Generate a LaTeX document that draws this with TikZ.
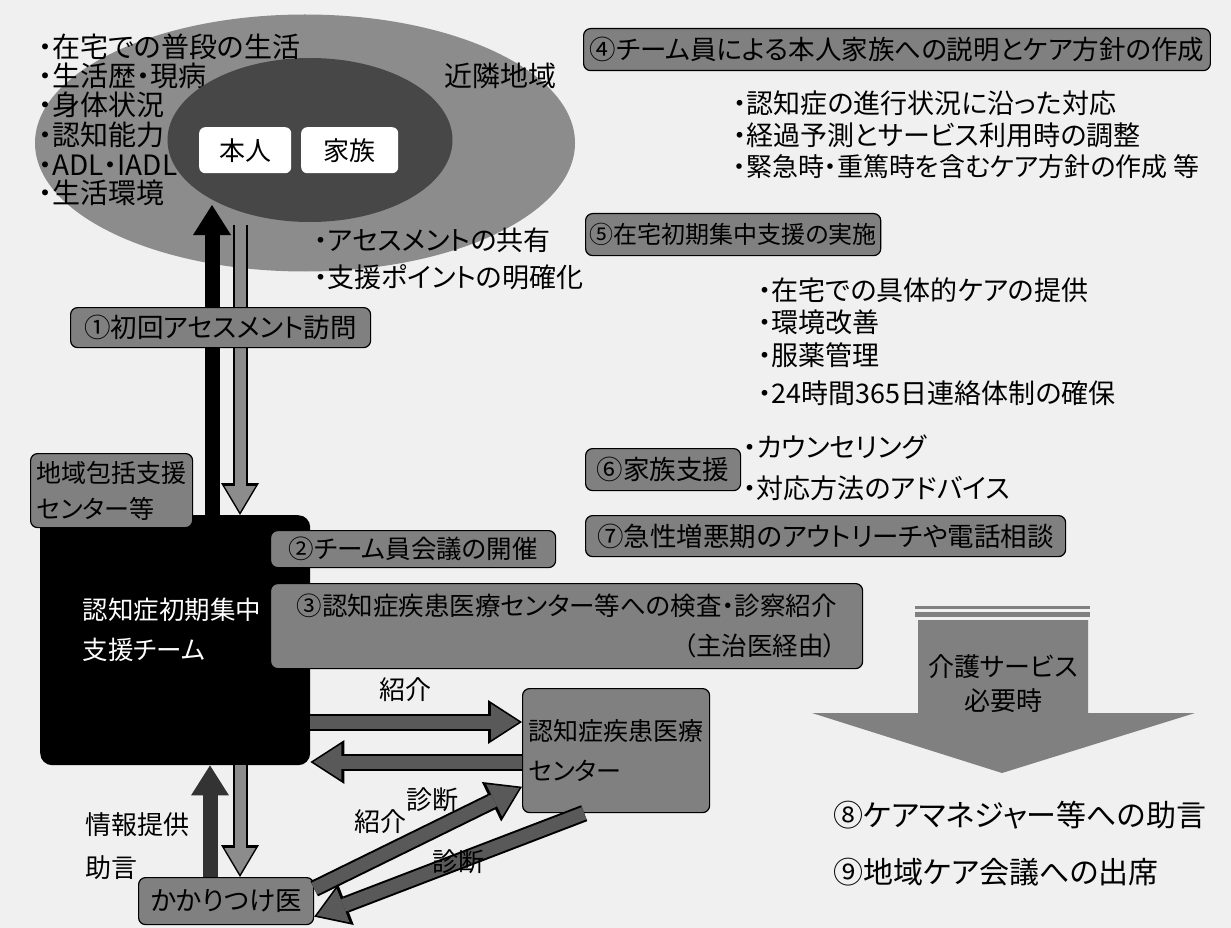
\documentclass[tikz,border=0pt]{standalone}
\usepackage{fontspec}
\setmainfont{Noto Sans CJK JP}[RawFeature=+palt]
\usetikzlibrary{arrows.meta,shapes.geometric}
\tikzset{
  T/.style={inner sep=0pt, font=\fontsize{26}{30}\selectfont},
  L/.style={T, anchor=west, font=\fontsize{27}{30}\selectfont},
  LL/.style={T, anchor=west, font=\fontsize{28}{30}\selectfont},
  gbox/.style={T, draw=black, line width=1.2pt, fill=black!50, rounded corners=7pt, anchor=north west, inner xsep=6pt, font=\fontsize{26.5}{30}\selectfont},
  wbox/.style={T, fill=white, rounded corners=6pt, anchor=north west, font=\fontsize{26}{30}\selectfont},
  blk/.style={draw=black, line width=15pt, -{Triangle[width=38pt,length=30pt,line width=0pt]}},
  gry/.style={draw=black!45, line width=11pt, shorten >=3pt, -{Triangle[width=31pt,length=26pt,line width=0pt]},
     preaction={draw=black, line width=15pt, shorten >=0pt, -{Triangle[width=38pt,length=32pt,line width=0pt]}}},
  dgry/.style={draw=black!65, line width=13pt, shorten >=3pt, -{Triangle[width=36pt,length=28pt,line width=0pt]},
     preaction={draw=black, line width=17pt, shorten >=0pt, -{Triangle[width=44pt,length=34pt,line width=0pt]}}},
}
\begin{document}
\begin{tikzpicture}[x=1pt,y=-1pt]
\useasboundingbox[fill=black!6] (0,0) rectangle (1231,928);
% ellipses
\node[ellipse, fill=black!45, minimum width=540pt, minimum height=257pt, inner sep=0pt] (outer) at (305,143) {};
\node[LL] (l2) at (38,76) {・生活歴・現病};
\node[LL] (l2b) at (444,76) {近隣地域};
\node[ellipse, fill=black!72, minimum width=285pt, minimum height=164pt, inner sep=0pt] (inner) at (310,140) {};
\node[LL] (l1) at (38,47) {・在宅での普段の生活};
\node[LL] (l3) at (38,105) {・身体状況};
\node[LL] (l4) at (38,135) {・認知能力};
\node[LL] (l5) at (38,165) {・ADL・IADL};
\node[LL] (l6) at (38,193) {・生活環境};
\node[wbox, minimum width=92pt, minimum height=46pt] (honnin) at (199,127) {本人};
\node[wbox, minimum width=97pt, minimum height=46pt] (kazoku) at (301,127) {家族};
\node[L] (as1) at (314,240) {・アセスメントの共有};
\node[L] (as2) at (314,277) {・支援ポイントの明確化};
% team
\node[fill=black, rounded corners=12pt, minimum width=270pt, minimum height=250pt, anchor=north west, inner sep=0pt] (team) at (40,515) {};
\node[T, text=white, align=left, font=\fontsize{25.5}{40}\selectfont] (teamlbl) at (172,630) {認知症初期集中\\支援チーム};
% top vertical arrows
\coordinate (uptip) at (212,205);
\coordinate (dntail) at (240,225);
\draw[blk] (team.north -| uptip) -- (uptip);
\draw[gry] (dntail) -- (team.north -| dntail);
\node[gbox, minimum width=300pt, minimum height=40pt] (s1) at (70,307) {①初回アセスメント訪問};
\node[gbox, minimum width=160pt, minimum height=74pt, align=left, font=\fontsize{25}{36}\selectfont] (chiiki) at (30,453) {地域包括支援\\センター等};
\node[gbox, minimum width=285pt, minimum height=37pt, font=\fontsize{25.5}{30}\selectfont] (s2) at (270,530) {②チーム員会議の開催};
\node[gbox, minimum width=592pt, minimum height=85pt, align=right, font=\fontsize{25.5}{40}\selectfont] (s3) at (270,583) {③認知症疾患医療センター等への検査・診察紹介\\（主治医経由）};
% right column
\node[gbox, minimum width=622pt, minimum height=42pt] (s4) at (583,28) {④チーム員による本人家族への説明とケア方針の作成};
\node[L] (b41) at (733,103) {・認知症の進行状況に沿った対応};
\node[L] (b42) at (733,135) {・経過予測とサービス利用時の調整};
\node[L, font=\fontsize{26}{30}\selectfont] (b43) at (733,167) {・緊急時・重篤時を含むケア方針の作成 等};
\node[gbox, minimum width=278pt, minimum height=42pt, inner xsep=4pt, font=\fontsize{24}{30}\selectfont] (s5) at (585,213) {⑤在宅初期集中支援の実施};
\node[L] (b51) at (758,290) {・在宅での具体的ケアの提供};
\node[L] (b52) at (758,322) {・環境改善};
\node[L] (b53) at (758,355) {・服薬管理};
\node[L] (b54) at (758,393) {・24時間365日連絡体制の確保};
\node[gbox, minimum width=155pt, minimum height=42pt] (s6) at (585,448) {⑥家族支援};
\node[L] (b61) at (743,447) {・カウンセリング};
\node[L] (b62) at (743,488) {・対応方法のアドバイス};
\node[gbox, minimum width=480pt, minimum height=41pt] (s7) at (585,515) {⑦急性増悪期のアウトリーチや電話相談};
% big arrow
\fill[black!50] (915,606) rectangle (1090,609);
\fill[black!50] (915,612) rectangle (1090,617);
\fill[black!50] (918,620) -- (1088,620) -- (1088,713) -- (1195,713) -- (1002,773) -- (812,713) -- (918,713) -- cycle;
\node[T, align=center, font=\fontsize{26}{34}\selectfont] (kaigo) at (1003,684) {介護サービス\\必要時};
\node[L, font=\fontsize{30}{34}\selectfont] (s8) at (833,815) {⑧ケアマネジャー等への助言};
\node[L, font=\fontsize{30}{34}\selectfont] (s9) at (833,872) {⑨地域ケア会議への出席};
% bottom
\node[gbox, minimum width=168pt, minimum height=124pt, align=left, font=\fontsize{25}{40}\selectfont] (center) at (522,688) {認知症疾患医療\\センター};
\node[gbox, minimum width=175pt, minimum height=47pt] (kakari) at (138,877) {かかりつけ医};
\coordinate (ra) at (0,722);
\coordinate (la) at (0,762);
\draw[dgry] (team.east |- ra) -- (center.west |- ra);
\draw[dgry] (center.west |- la) -- (team.east |- la);
\node[T] (lb1) at (405,690) {紹介};
\node[T] (lb2) at (432,800) {診断};
\coordinate (bu) at (210,0);
\coordinate (bd) at (240,0);
\draw[blk, draw=black!80] (kakari.north -| bu) -- (team.south -| bu);
\draw[gry] (team.south -| bd) -- (kakari.north -| bd);
\draw[dgry] (kakari.8) -- (center.201);
\draw[dgry] (center.243) -- (kakari.-10);
\node[T] (lb3) at (380,822) {紹介};
\node[T] (lb4) at (458,862) {診断};
\node[L, font=\fontsize{26}{30}\selectfont] (jh) at (85,825) {情報提供};
\node[L, font=\fontsize{26}{30}\selectfont] (jg) at (85,868) {助言};
\end{tikzpicture}
\end{document}
